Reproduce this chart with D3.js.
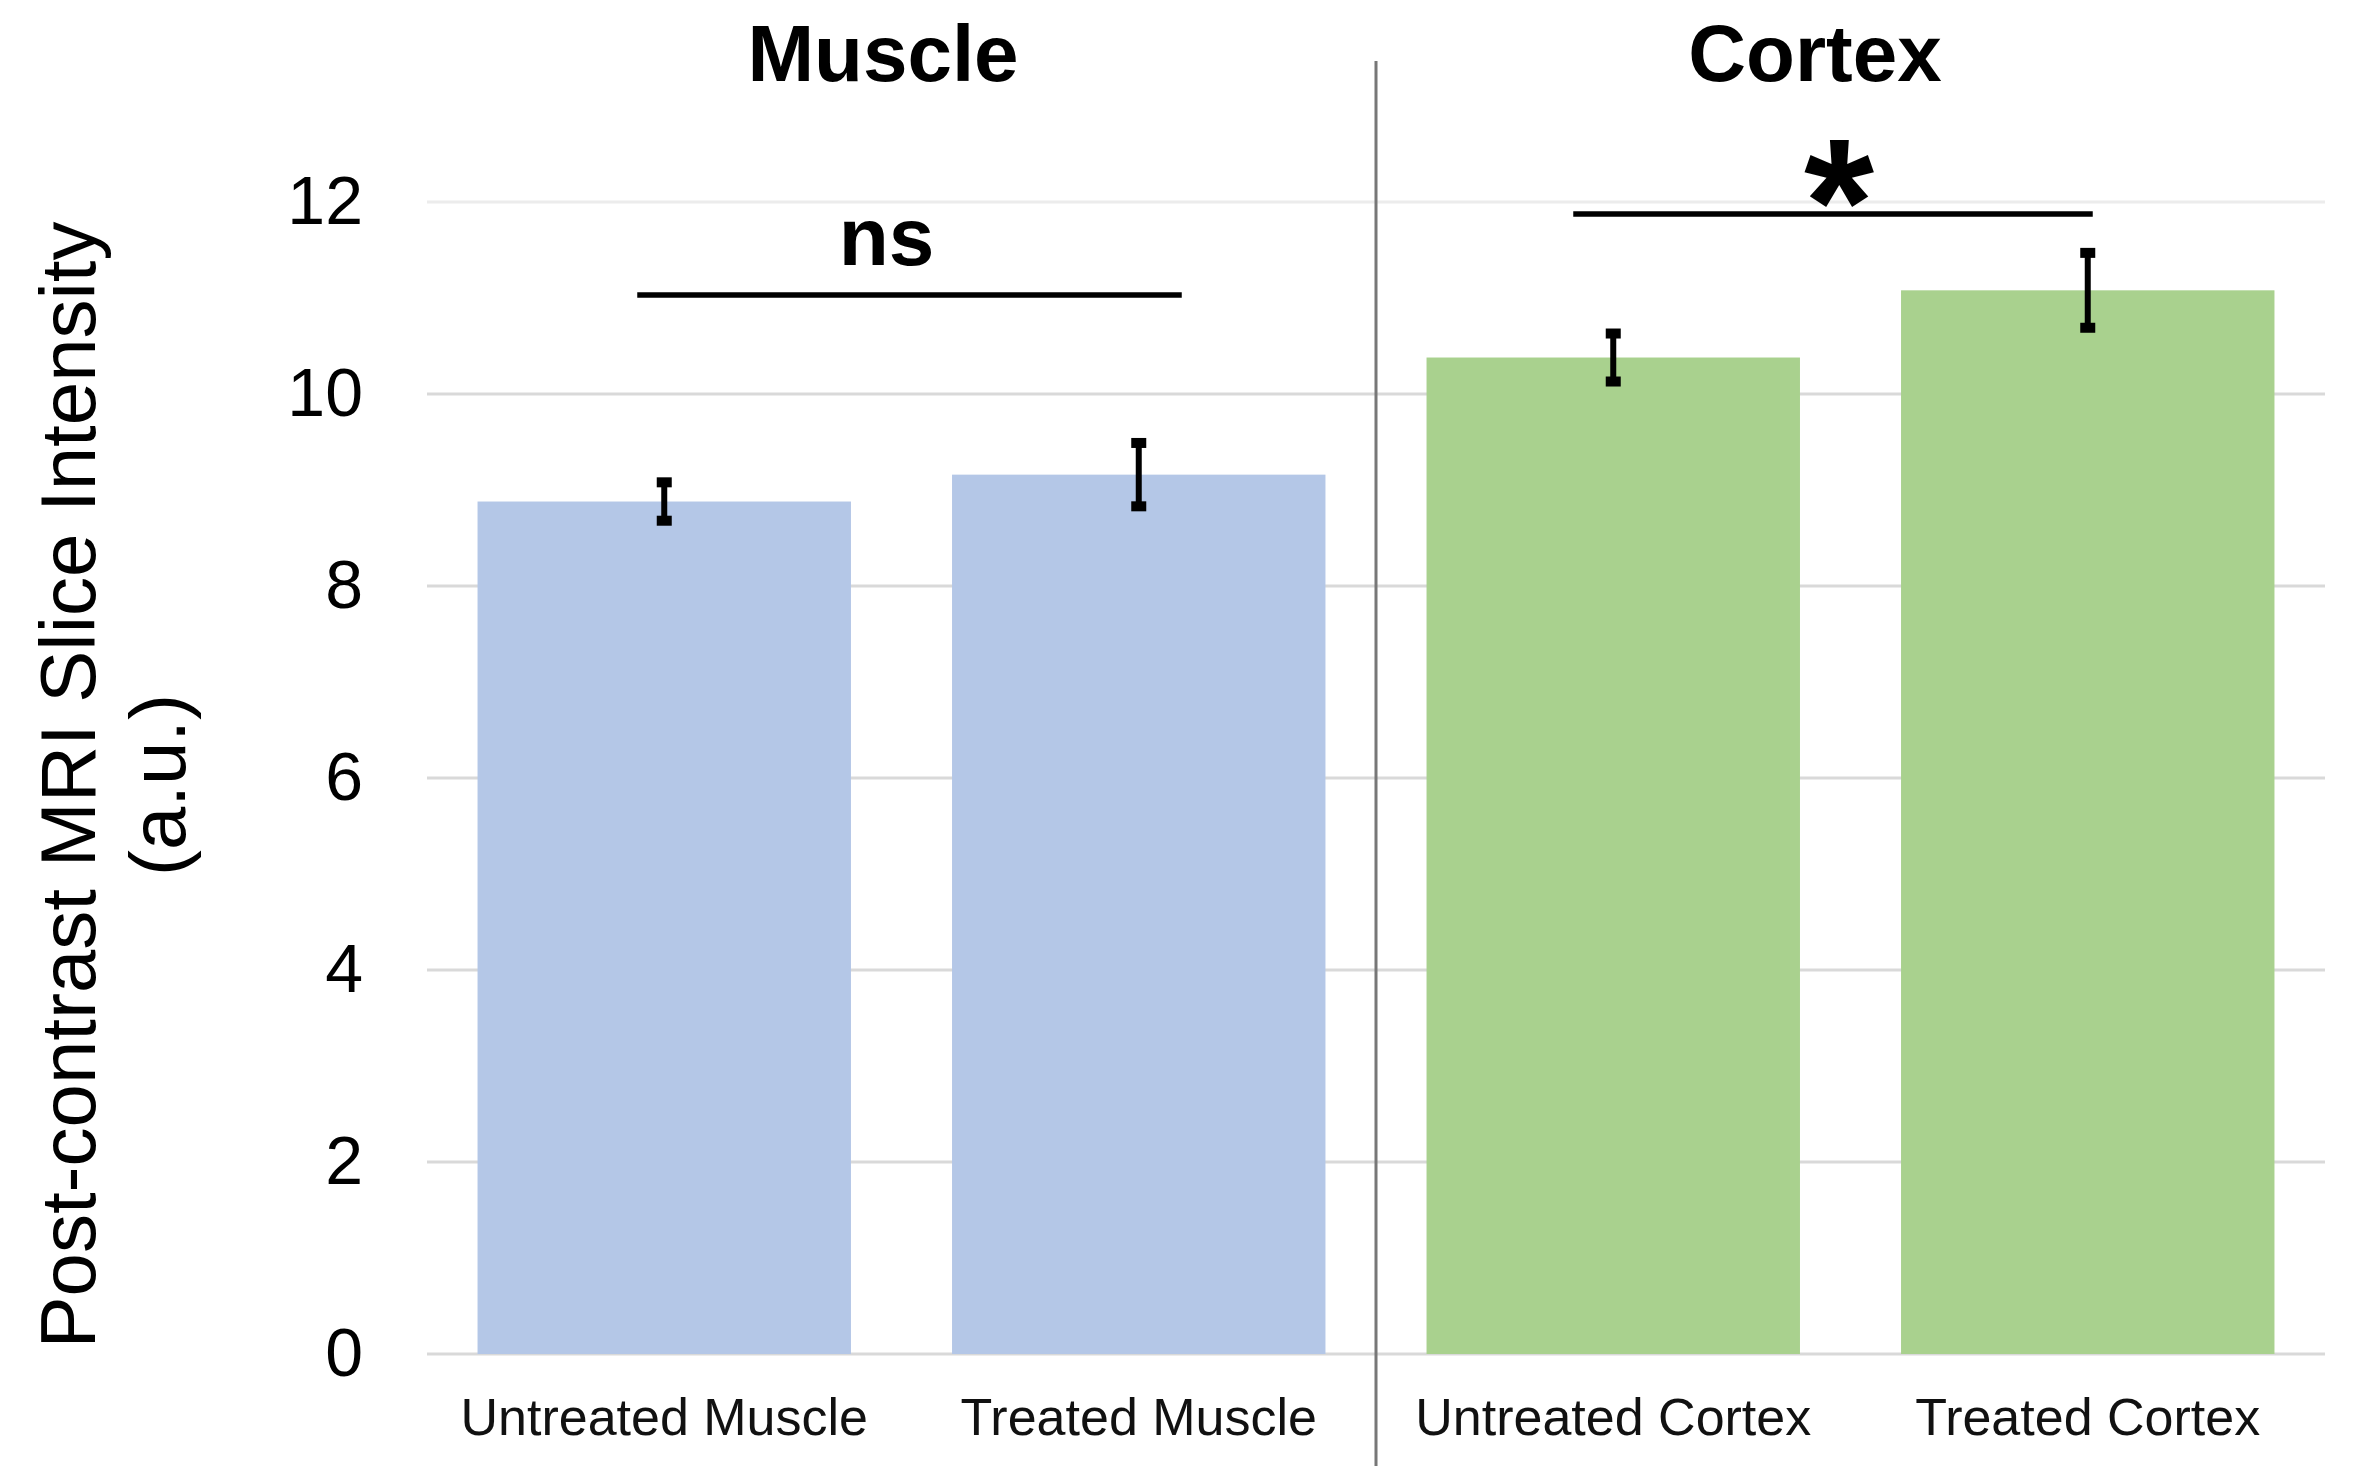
<!DOCTYPE html>
<html>
<head>
<meta charset="utf-8">
<script src="https://cdn.jsdelivr.net/npm/d3@7"></script>
<style>
  html, body { margin: 0; padding: 0; background: #fff; }
  svg { display: block; }
  text { font-family: "Liberation Sans", Arial, sans-serif; }
</style>
</head>
<body>
<div class="chart"></div>
<script>
// chart data
const categories = ["Untreated Muscle", "Treated Muscle", "Untreated Cortex", "Treated Cortex"]
const groups = ["Muscle", "Muscle", "Cortex", "Cortex"]
const means = [8.88, 9.16, 10.38, 11.08]
const errors = [0.20, 0.33, 0.25, 0.39]
const yTicks = [0, 2, 4, 6, 8, 10, 12]
const panelTitles = ["Muscle", "Cortex"]
// significance brackets: from / to category index, height in data units
const brackets = [
  { from: 0, to: 1, level: 11.03, label: "ns" },
  { from: 2, to: 3, level: 11.875, label: "*" }
]

const width = 2354
const height = 1466

const svg = d3.select(".chart")
  .append("svg")
  .attr("width", width)
  .attr("height", height)

const x = d3.scaleBand()
  .domain(categories)
  .range([427, 2325])
  .paddingInner(0.213)
  .paddingOuter(0.1065)

const y = d3.scaleLinear()
  .domain([0, 12])
  .range([1354, 202])

const colour = d3.scaleOrdinal()
  .domain(panelTitles)
  .range(["#b4c7e7", "#a9d18e"])

// gridlines
svg.append("g")
  .selectAll("line")
  .data(yTicks)
  .join("line")
  .attr("x1", x.range()[0])
  .attr("x2", x.range()[1])
  .attr("y1", d => y(d))
  .attr("y2", d => y(d))
  .attr("stroke", d => d === 12 ? "#ececec" : "#d9d9d9")
  .attr("stroke-width", 3)

// y axis labels
const yAxis = svg.append("g")
  .attr("transform", `translate(${x.range()[0]},0)`)
  .call(d3.axisLeft(y).tickValues(yTicks).tickSize(0).tickPadding(64))
yAxis.select(".domain").remove()
yAxis.selectAll("text")
  .attr("font-size", 68)
  .attr("font-family", "Liberation Sans, Arial, sans-serif")
  .attr("fill", "#000")

// bars
const bars = categories.map((c, i) => ({ cat: c, group: groups[i], mean: means[i], err: errors[i] }))

svg.append("g")
  .selectAll("rect")
  .data(bars)
  .join("rect")
  .attr("x", d => x(d.cat))
  .attr("width", x.bandwidth())
  .attr("y", d => y(d.mean))
  .attr("height", d => y(0) - y(d.mean))
  .attr("fill", d => colour(d.group))

// error bars
const eb = svg.append("g")
  .selectAll("g")
  .data(bars)
  .join("g")
  .attr("transform", d => `translate(${x(d.cat) + x.bandwidth() / 2},0)`)

eb.append("line")
  .attr("y1", d => y(d.mean + d.err))
  .attr("y2", d => y(d.mean - d.err))
  .attr("stroke", "#000")
  .attr("stroke-width", 6)

eb.selectAll("rect")
  .data(d => [d.mean + d.err, d.mean - d.err])
  .join("rect")
  .attr("x", -7.5)
  .attr("width", 15)
  .attr("y", v => y(v) - 5)
  .attr("height", 10)
  .attr("fill", "#000")

// category labels
svg.append("g")
  .selectAll("text")
  .data(categories)
  .join("text")
  .attr("x", d => x(d) + x.bandwidth() / 2)
  .attr("y", 1435)
  .attr("text-anchor", "middle")
  .attr("font-size", 52)
  .attr("fill", "#111")
  .text(d => d)

// divider between panels
const divX = (x(categories[1]) + x.bandwidth() + x(categories[2])) / 2
svg.append("line")
  .attr("x1", divX)
  .attr("x2", divX)
  .attr("y1", 61)
  .attr("y2", height)
  .attr("stroke", "#777")
  .attr("stroke-width", 3)

// panel titles
const titleX = [883, 1815]
svg.append("g")
  .selectAll("text")
  .data(panelTitles)
  .join("text")
  .attr("x", (d, i) => titleX[i])
  .attr("y", 81)
  .attr("text-anchor", "middle")
  .attr("font-size", 80)
  .attr("font-weight", "bold")
  .text(d => d)

// significance brackets
const bracketInset = [[-27, 43], [-40, 5]]
const bg = svg.append("g")
  .selectAll("g")
  .data(brackets)
  .join("g")

bg.append("line")
  .attr("x1", (d, i) => x(categories[d.from]) + x.bandwidth() / 2 + bracketInset[i][0])
  .attr("x2", (d, i) => x(categories[d.to]) + x.bandwidth() / 2 + bracketInset[i][1])
  .attr("y1", d => y(d.level))
  .attr("y2", d => y(d.level))
  .attr("stroke", "#000")
  .attr("stroke-width", 5.5)

const labelOffset = [[-23, -30, 82], [6, 50, 180]]
bg.append("text")
  .attr("x", (d, i) => (x(categories[d.from]) + x(categories[d.to]) + x.bandwidth()) / 2 + bracketInset[i][0] / 2 + bracketInset[i][1] / 2 + labelOffset[i][0])
  .attr("y", (d, i) => y(d.level) + labelOffset[i][1])
  .attr("text-anchor", "middle")
  .attr("font-size", (d, i) => labelOffset[i][2])
  .attr("font-weight", "bold")
  .text(d => d.label)

// y axis title
const yTitle = svg.append("text")
  .attr("transform", "translate(95,785) rotate(-90)")
  .attr("text-anchor", "middle")
  .attr("font-size", 78)
  .attr("fill", "#000")
yTitle.append("tspan").attr("x", 0).attr("dy", 0).text("Post-contrast MRI Slice Intensity")
yTitle.append("tspan").attr("x", 0).attr("dy", 90).text("(a.u.)")
</script>
</body>
</html>
